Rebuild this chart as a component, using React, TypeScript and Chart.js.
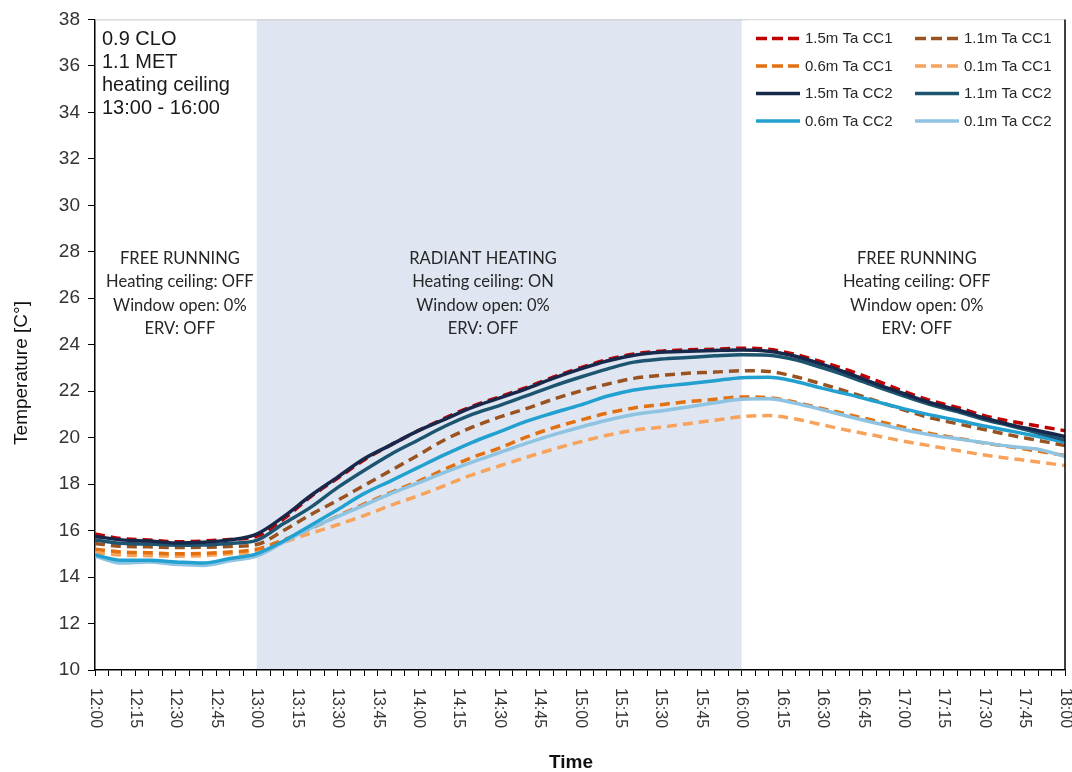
import React, { useEffect, useRef } from "react";
import { Chart, registerables } from "chart.js";

Chart.register(...registerables);

// Minutes after 12:00, sampled every 10 minutes
const minutes = [
  0, 10, 20, 30, 40, 50, 60, 70, 80, 90, 100, 110, 120, 130, 140, 150, 160, 170,
  180, 190, 200, 210, 220, 230, 240, 250, 260, 270, 280, 290, 300, 310, 320, 330,
  340, 350, 360,
];

// Axis labels every 15 minutes
const timeLabels = [
  "12:00", "12:15", "12:30", "12:45", "13:00", "13:15", "13:30", "13:45",
  "14:00", "14:15", "14:30", "14:45", "15:00", "15:15", "15:30", "15:45",
  "16:00", "16:15", "16:30", "16:45", "17:00", "17:15", "17:30", "17:45", "18:00",
];
const labelStepMinutes = 15;

// Air temperature (°C) at four heights, case CC1
const ta15CC1 = [15.85, 15.65, 15.6, 15.52, 15.55, 15.62, 15.75, 16.5, 17.45, 18.25, 19.05, 19.7, 20.3, 20.85, 21.35, 21.75, 22.15, 22.6, 23.0, 23.35, 23.6, 23.72, 23.78, 23.8, 23.85, 23.8, 23.58, 23.25, 22.88, 22.45, 22.0, 21.6, 21.3, 20.95, 20.7, 20.5, 20.3];
const ta11CC1 = [15.45, 15.32, 15.3, 15.27, 15.28, 15.32, 15.4, 16.0, 16.68, 17.3, 17.95, 18.6, 19.25, 19.92, 20.45, 20.88, 21.25, 21.65, 22.0, 22.3, 22.55, 22.68, 22.77, 22.82, 22.88, 22.85, 22.62, 22.3, 21.95, 21.58, 21.2, 20.85, 20.6, 20.35, 20.1, 19.88, 19.66];
const ta06CC1 = [15.2, 15.08, 15.05, 15.0, 15.02, 15.08, 15.2, 15.6, 16.08, 16.62, 17.15, 17.65, 18.12, 18.65, 19.15, 19.55, 20.02, 20.42, 20.75, 21.05, 21.28, 21.42, 21.55, 21.65, 21.75, 21.72, 21.52, 21.25, 20.98, 20.72, 20.45, 20.18, 19.98, 19.77, 19.6, 19.42, 19.23];
const ta01CC1 = [15.05, 14.95, 14.92, 14.9, 14.92, 15.0, 15.1, 15.5, 15.88, 16.25, 16.65, 17.1, 17.5, 17.95, 18.4, 18.78, 19.15, 19.5, 19.82, 20.1, 20.32, 20.45, 20.6, 20.75, 20.9, 20.95, 20.8, 20.55, 20.3, 20.08, 19.85, 19.65, 19.45, 19.25, 19.1, 18.95, 18.8];

// Air temperature (°C) at four heights, case CC2
const ta15CC2 = [15.75, 15.6, 15.55, 15.47, 15.5, 15.6, 15.85, 16.6, 17.5, 18.3, 19.1, 19.7, 20.3, 20.8, 21.3, 21.7, 22.1, 22.55, 22.95, 23.3, 23.55, 23.68, 23.72, 23.75, 23.77, 23.72, 23.5, 23.15, 22.75, 22.3, 21.9, 21.5, 21.2, 20.85, 20.55, 20.3, 20.05];
const ta11CC2 = [15.6, 15.45, 15.42, 15.37, 15.38, 15.45, 15.58, 16.3, 17.0, 17.85, 18.6, 19.3, 19.9, 20.5, 21.0, 21.38, 21.8, 22.22, 22.6, 22.95, 23.25, 23.38, 23.45, 23.52, 23.57, 23.55, 23.35, 23.0, 22.62, 22.2, 21.8, 21.42, 21.12, 20.78, 20.5, 20.2, 19.9];
const ta06CC2 = [14.95, 14.72, 14.72, 14.65, 14.6, 14.8, 15.0, 15.55, 16.22, 16.9, 17.6, 18.15, 18.72, 19.28, 19.8, 20.25, 20.7, 21.06, 21.4, 21.78, 22.05, 22.2, 22.32, 22.45, 22.58, 22.6, 22.42, 22.12, 21.85, 21.55, 21.25, 20.98, 20.75, 20.5, 20.28, 20.05, 19.8];
const ta01CC2 = [14.9, 14.6, 14.65, 14.55, 14.5, 14.7, 14.9, 15.5, 16.1, 16.6, 17.1, 17.6, 18.05, 18.52, 18.95, 19.35, 19.75, 20.12, 20.45, 20.75, 21.0, 21.15, 21.32, 21.5, 21.65, 21.67, 21.48, 21.2, 20.9, 20.62, 20.35, 20.12, 19.95, 19.78, 19.62, 19.5, 19.19];

const seriesNames = [
  "1.5m Ta CC1", "1.1m Ta CC1", "0.6m Ta CC1", "0.1m Ta CC1",
  "1.5m Ta CC2", "1.1m Ta CC2", "0.6m Ta CC2", "0.1m Ta CC2",
];
const seriesValues = [ta15CC1, ta11CC1, ta06CC1, ta01CC1, ta15CC2, ta11CC2, ta06CC2, ta01CC2];
const seriesColors = [
  "#c00000", "#9a5320", "#e2700f", "#f7a35c",
  "#17284a", "#1d5570", "#22a0d0", "#8fc3e2",
];
const seriesDashed = [true, true, true, true, false, false, false, false];

// Radiant ceiling heating period (minutes after 12:00)
const heatingStart = 60;
const heatingEnd = 240;

const conditionLines = ["0.9 CLO", "1.1 MET", "heating ceiling", "13:00 - 16:00"];

// Phase annotations: centre time (minutes) and text lines
const phaseCentres = [31.5, 144, 305];
const phaseTexts = [
  ["FREE RUNNING", "Heating ceiling: OFF", "Window open: 0%", "ERV: OFF"],
  ["RADIANT HEATING", "Heating ceiling: ON", "Window open: 0%", "ERV: OFF"],
  ["FREE RUNNING", "Heating ceiling: OFF", "Window open: 0%", "ERV: OFF"],
];
const phaseLineTemps = [27.7, 26.7, 25.7, 24.7];

const SANS = "'Liberation Sans', Arial, sans-serif";
const DASH = [10, 6];

const decorations = {
  id: "decorations",
  beforeDraw(chart: any) {
    const { ctx, chartArea: a, scales } = chart;
    const x0 = scales.x.getPixelForValue(heatingStart);
    const x1 = scales.x.getPixelForValue(heatingEnd);
    ctx.save();
    ctx.fillStyle = "#dfe6f2";
    ctx.fillRect(x0, a.top, x1 - x0, a.bottom - a.top);
    ctx.restore();
  },
  afterDraw(chart: any) {
    const { ctx, chartArea: a, scales } = chart;
    const xs = scales.x;
    const ys = scales.y;
    ctx.save();

    // frame: top (light) and right (black)
    ctx.strokeStyle = "#c8c8c8";
    ctx.lineWidth = 1;
    ctx.beginPath();
    ctx.moveTo(a.left, a.top + 0.5);
    ctx.lineTo(a.right, a.top + 0.5);
    ctx.stroke();
    ctx.strokeStyle = "#000";
    ctx.lineWidth = 1.5;
    ctx.beginPath();
    ctx.moveTo(a.right, a.top);
    ctx.lineTo(a.right, a.bottom);
    ctx.stroke();

    // conditions text, top left
    ctx.fillStyle = "#1a1a1a";
    ctx.font = `20px ${SANS}`;
    ctx.textAlign = "left";
    ctx.textBaseline = "middle";
    conditionLines.forEach((t, i) => ctx.fillText(t, a.left + 7, a.top + 20 + i * 23));

    // phase annotations
    ctx.fillStyle = "#262626";
    ctx.font = "16.5px Lato, 'Noto Sans', sans-serif";
    ctx.textAlign = "center";
    phaseTexts.forEach((lines, p) => {
      const cx = xs.getPixelForValue(phaseCentres[p]);
      lines.forEach((t, i) => ctx.fillText(t, cx, ys.getPixelForValue(phaseLineTemps[i])));
    });

    // legend
    ctx.fillStyle = "#fff";
    ctx.fillRect(747, a.top + 1, a.right - 748, 119);
    const colX = [756, 915];
    const rowY = [38.5, 66, 93.5, 121];
    ctx.font = `15px ${SANS}`;
    ctx.textAlign = "left";
    ctx.textBaseline = "middle";
    seriesNames.forEach((name, i) => {
      const lx = colX[i % 2];
      const ly = rowY[Math.floor(i / 2)];
      ctx.strokeStyle = seriesColors[i];
      ctx.lineWidth = 3.5;
      ctx.setLineDash(seriesDashed[i] ? [11, 5] : []);
      ctx.beginPath();
      ctx.moveTo(lx, ly);
      ctx.lineTo(lx + 44, ly);
      ctx.stroke();
      ctx.setLineDash([]);
      ctx.fillStyle = "#262626";
      ctx.fillText(name, lx + 49, ly + 0.5);
    });

    // x tick labels, rotated clockwise
    ctx.fillStyle = "#333";
    ctx.font = `16px ${SANS}`;
    timeLabels.forEach((t, i) => {
      const px = xs.getPixelForValue(i * labelStepMinutes);
      ctx.save();
      ctx.translate(px, a.bottom + 18);
      ctx.rotate(Math.PI / 2);
      ctx.textAlign = "left";
      ctx.textBaseline = "middle";
      ctx.fillText(t, 0, 0);
      ctx.restore();
    });

    // axis titles
    ctx.fillStyle = "#111";
    ctx.font = `bold 19px ${SANS}`;
    ctx.textAlign = "center";
    ctx.textBaseline = "middle";
    ctx.fillText("Time", 571, 763);

    ctx.save();
    ctx.translate(22, 373);
    ctx.rotate(-Math.PI / 2);
    ctx.font = `19px ${SANS}`;
    ctx.fillStyle = "#111";
    ctx.fillText("Temperature [C°]", 0, 0);
    ctx.restore();

    ctx.restore();
  },
};

export default function App() {
  const ref = useRef<HTMLCanvasElement>(null);

  useEffect(() => {
    if (!ref.current) return;
    const datasets = seriesNames.map((name, i) => ({
      label: name,
      data: minutes.map((m, k) => ({ x: m, y: seriesValues[i][k] })),
      borderColor: seriesColors[i],
      backgroundColor: seriesColors[i],
      borderWidth: 3.5,
      borderDash: seriesDashed[i] ? DASH : [],
      pointRadius: 0,
      cubicInterpolationMode: "monotone" as const,
      fill: false,
      order: seriesDashed[i] ? 1 : 0,
    }));

    const chart = new Chart(ref.current, {
      type: "line",
      data: { datasets },
      options: {
        animation: false,
        responsive: false,
        devicePixelRatio: 1,
        layout: { padding: { top: 18, right: 7, left: 0, bottom: 0 } },
        plugins: { legend: { display: false }, tooltip: { enabled: false } },
        scales: {
          x: {
            type: "linear",
            min: 0,
            max: 360,
            ticks: { stepSize: 5, display: false },
            grid: { drawOnChartArea: false, drawTicks: true, tickLength: 6, color: "#000", lineWidth: 1 },
            border: { display: true, color: "#000", width: 1.5 },
            afterFit: (s: any) => { s.height = 102; },
          },
          y: {
            min: 10,
            max: 38,
            ticks: {
              stepSize: 2,
              padding: 8,
              color: "#333",
              font: { family: SANS, size: 19 },
            },
            grid: { drawOnChartArea: false, drawTicks: true, tickLength: 7, color: "#000", lineWidth: 1 },
            border: { display: true, color: "#000", width: 1.5 },
            afterFit: (s: any) => { s.width = 95; },
          },
        },
      },
      plugins: [decorations],
    });
    return () => chart.destroy();
  }, []);

  return (
    <div style={{ position: "absolute", left: 0, top: 0, width: 1072, height: 772, background: "#fff" }}>
      <canvas ref={ref} width={1072} height={772} style={{ display: "block" }} />
    </div>
  );
}
